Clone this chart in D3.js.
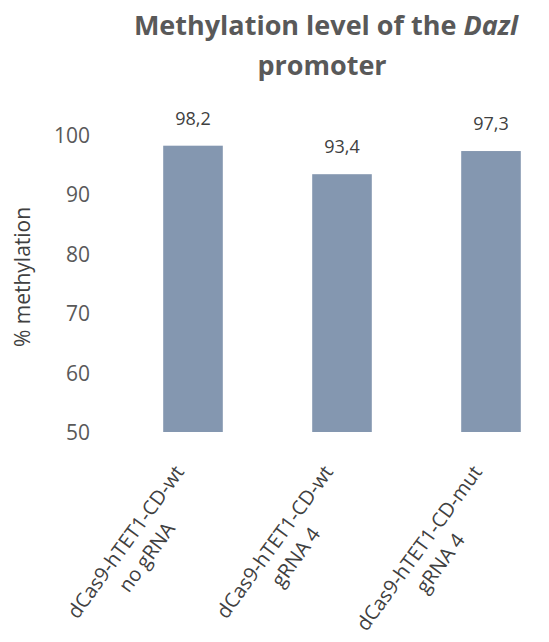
<!DOCTYPE html>
<html><head><meta charset="utf-8">
<script src="https://cdn.jsdelivr.net/npm/d3@7"></script>
<style>body{margin:0;background:#fff;} svg{display:block;font-family:"Open Sans",sans-serif;}</style>
</head><body>
<script>
const categories = [["dCas9-hTET1-CD-wt","no gRNA"],["dCas9-hTET1-CD-wt","gRNA 4"],["dCas9-hTET1-CD-mut","gRNA 4"]];
const values = [98.2, 93.4, 97.3];
const yTicks = [50, 60, 70, 80, 90, 100];
const titleLine1 = "Methylation level of the ";
const titleItalic = "Dazl";
const titleLine2 = "promoter";
const yLabel = "% methylation";

const W = 549, H = 642;
const svg = d3.select("body").append("svg").attr("width", W).attr("height", H);

const x = d3.scaleBand().domain(d3.range(categories.length)).range([118.5, 565.5]).paddingInner(0.6).paddingOuter(0.3);
const y = d3.scaleLinear().domain([50, 100]).range([432, 135]);
const loc = d3.formatLocale({decimal: ",", thousands: ".", grouping: [3], currency: ["", ""]});
const fmt = loc.format(".1f");

// bars
svg.selectAll("rect.bar").data(values).join("rect").attr("class","bar")
  .attr("x", (d,i) => x(i)).attr("width", x.bandwidth())
  .attr("y", d => y(d)).attr("height", d => y(50) - y(d))
  .attr("fill", "#8497b0");

// value labels
svg.selectAll("text.val").data(values).join("text").attr("class","val")
  .attr("x", (d,i) => x(i) + x.bandwidth()/2).attr("y", d => y(d) - 21)
  .attr("text-anchor","middle").attr("font-size", 18).attr("fill","#404040")
  .text(d => fmt(d));

// y axis
const yAxis = d3.axisLeft(y).tickValues(yTicks).tickSize(0).tickPadding(0);
const gy = svg.append("g").attr("transform","translate(90,0)").call(yAxis);
gy.select(".domain").remove();
gy.selectAll("text").attr("font-size", 21).attr("fill","#595959").attr("font-family","Open Sans, sans-serif").attr("dy","0.36em");

// y label
svg.append("text").attr("transform","translate(30,277) rotate(-90)")
  .attr("text-anchor","middle").attr("font-size", 21).attr("fill","#404040").text(yLabel);

// x labels
const lab = svg.selectAll("g.xl").data(categories).join("g").attr("class","xl")
  .attr("transform", (d,i) => `translate(${x(i) + x.bandwidth()/2 - 8},472) rotate(-54)`);
lab.each(function(d){
  const g = d3.select(this);
  const t1 = g.append("text").attr("text-anchor","end").attr("font-size",20).attr("fill","#404040").text(d[0]);
  const w = t1.node().getComputedTextLength();
  g.append("text").attr("x", -w/2).attr("y", 26).attr("text-anchor","middle").attr("font-size",20).attr("fill","#404040").text(d[1]);
});

// title
const t = svg.append("text").attr("x", 326).attr("y", 35).attr("text-anchor","middle")
  .attr("font-size", 27).attr("font-weight","bold").attr("fill","#595959");
t.append("tspan").text(titleLine1);
t.append("tspan").attr("font-style","italic").text(titleItalic);
svg.append("text").attr("x", 322).attr("y", 75).attr("text-anchor","middle")
  .attr("font-size", 27).attr("font-weight","bold").attr("fill","#595959").text(titleLine2);
</script>
</body></html>
